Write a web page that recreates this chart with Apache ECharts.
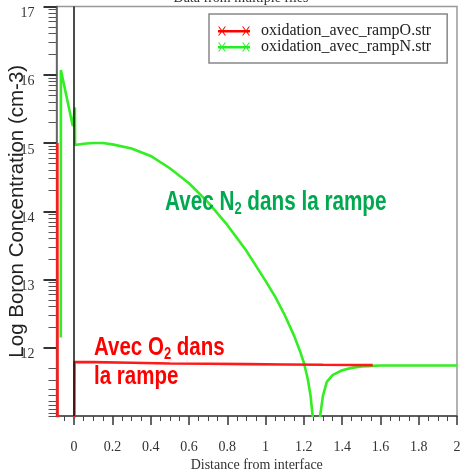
<!DOCTYPE html>
<html>
<head>
<meta charset="utf-8">
<script src="https://cdn.jsdelivr.net/npm/echarts@6/dist/echarts.min.js"></script>
<style>
html,body{margin:0;padding:0;background:#fff;}
#chart{width:460px;height:472px;}
</style>
</head>
<body>
<div id="chart"></div>
<script>
// ---- data ----
const seriesNames = ['oxidation_avec_rampO.str', 'oxidation_avec_rampN.str'];

const redX = [-0.0875, -0.0872, -0.0862, 0.001, 0.002, 0.1, 0.3, 0.5, 0.7, 0.9, 1.1, 1.3, 1.45, 1.56];
const redY = [15.0, 13.2, 10.5, 10.5, 11.79, 11.79, 11.78, 11.77, 11.765, 11.76, 11.755, 11.75, 11.748, 11.745];

const greenX = [-0.0695, -0.069, -0.007, 0.004, 0.005, 0.05, 0.1, 0.15, 0.2, 0.3, 0.4, 0.5, 0.6, 0.7, 0.8, 0.9, 1.0, 1.05, 1.1, 1.15, 1.18, 1.2, 1.22, 1.235, 1.246, 1.26, 1.275, 1.285, 1.3, 1.32, 1.35, 1.4, 1.45, 1.5, 1.56, 1.6, 1.8, 2.0];
const greenY = [12.15, 16.07, 15.25, 15.52, 14.97, 14.99, 15.0, 15.0, 14.98, 14.92, 14.81, 14.63, 14.41, 14.13, 13.8, 13.42, 12.98, 12.75, 12.48, 12.17, 11.95, 11.78, 11.55, 11.3, 11.0, 10.5, 10.5, 11.0, 11.3, 11.5, 11.6, 11.67, 11.705, 11.725, 11.735, 11.74, 11.74, 11.74];

const xMajorTicks = [0, 0.2, 0.4, 0.6, 0.8, 1, 1.2, 1.4, 1.6, 1.8, 2];
const xMinorTicks = [-0.05, 0.05, 0.1, 0.15, 0.25, 0.3, 0.35, 0.45, 0.5, 0.55, 0.65, 0.7, 0.75, 0.85, 0.9, 0.95, 1.05, 1.1, 1.15, 1.25, 1.3, 1.35, 1.45, 1.5, 1.55, 1.65, 1.7, 1.75, 1.85, 1.9, 1.95];
const yMajorTicks = [12, 13, 14, 15, 16, 17];
const yDecades = [12, 13, 14, 15, 16];
const minorK = [2, 3, 4, 5, 6, 7, 8, 9];
const yMinorTicks = [11];
minorK.forEach(k => yMinorTicks.push(12 - Math.log10(k)));
yDecades.forEach(d => minorK.forEach(k => yMinorTicks.push(d + Math.log10(k))));

const xMin = -0.092, xMax = 2, yMin = 11, yMax = 17;

const zip = (xs, ys) => xs.map((x, i) => [x, ys[i]]);

const iconPath = 'path://M0,4 L32,4 L32,6.5 L0,6.5 Z M0,0.5 L1.2,0.5 L8,9.5 L6.8,9.5 Z M6.8,0.5 L8,0.5 L1.2,9.5 L0,9.5 Z M24,0.5 L25.2,0.5 L32,9.5 L30.8,9.5 Z M30.8,0.5 L32,0.5 L25.2,9.5 L24,9.5 Z';

const chart = echarts.init(document.getElementById('chart'), null, {renderer: 'canvas'});
const serif = 'Liberation Serif';
const sans = 'Liberation Sans';

chart.setOption({
  animation: false,
  backgroundColor: '#fff',
  grid: {left: 56.5, right: 3, top: 6.5, bottom: 56, show: true, borderColor: '#999', borderWidth: 1.5,
         backgroundColor: 'transparent', containLabel: false, outerBoundsMode: 'none'},
  legend: {
    orient: 'vertical', left: 209, top: 14,
    padding: [9, 16, 8, 9], itemGap: 0, itemWidth: 32, itemHeight: 10,
    borderColor: '#888', borderWidth: 1.5,
    textStyle: {fontFamily: serif, fontSize: 16, lineHeight: 15, color: '#222', padding: [0, 0, 0, 6]},
    data: [{name: seriesNames[0], icon: iconPath}, {name: seriesNames[1], icon: iconPath}]
  },
  xAxis: [{
    type: 'value', min: xMin, max: xMax,
    name: 'Distance from interface', nameLocation: 'middle', nameGap: 49, nameMoveOverlap: false,
    nameTextStyle: {fontFamily: serif, fontSize: 14, color: '#333', verticalAlign: 'middle'},
    axisLine: {show: true, onZero: false, lineStyle: {color: '#444', width: 1.5}},
    axisTick: {show: true, customValues: xMajorTicks, length: 9, lineStyle: {color: '#333', width: 1.5}},
    axisLabel: {show: true, customValues: xMajorTicks, margin: 24, fontFamily: serif, fontSize: 14, color: '#333'},
    splitLine: {show: false}
  }, {
    type: 'value', min: xMin, max: xMax, position: 'bottom',
    axisLine: {show: false, onZero: false},
    axisTick: {show: true, customValues: xMinorTicks, length: 5, lineStyle: {color: '#444', width: 1}},
    axisLabel: {show: false},
    splitLine: {show: false}
  }],
  yAxis: [{
    type: 'value', min: yMin, max: yMax,
    name: 'Log Boron Concentration (cm-3)', nameLocation: 'middle', nameGap: 39, nameMoveOverlap: false,
    nameTextStyle: {fontFamily: sans, fontSize: 20.5, color: '#222', verticalAlign: 'middle'},
    axisLine: {show: true, onZero: false, lineStyle: {color: '#555', width: 1.5}},
    axisTick: {show: true, customValues: yMajorTicks, length: 13, lineStyle: {color: '#333', width: 2}},
    axisLabel: {show: true, customValues: yMajorTicks, margin: 22, fontFamily: serif, fontSize: 14, color: '#333', verticalAlign: 'top'},
    splitLine: {show: false}
  }, {
    type: 'value', min: yMin, max: yMax, position: 'left',
    axisLine: {show: false, onZero: false},
    axisTick: {show: true, customValues: yMinorTicks, length: 8, lineStyle: {color: '#555', width: 1}},
    axisLabel: {show: false},
    splitLine: {show: false}
  }],
  series: [{
    name: seriesNames[0], type: 'line', xAxisIndex: 0, yAxisIndex: 0,
    data: zip(redX, redY), showSymbol: false, symbol: 'none', clip: true,
    itemStyle: {color: '#ff0000'}, lineStyle: {color: '#ff1a1a', width: 2.6}, z: 3
  }, {
    name: seriesNames[1], type: 'line', xAxisIndex: 0, yAxisIndex: 0,
    data: zip(greenX, greenY), showSymbol: false, symbol: 'none', clip: true,
    itemStyle: {color: '#22ee22'}, lineStyle: {color: '#33ee22', width: 2.6}, z: 2,
    markLine: {silent: true, symbol: 'none', label: {show: false},
      lineStyle: {color: '#111', width: 1.5, type: 'solid'},
      data: [{xAxis: 0}]}
  }],
  graphic: [
    {type: 'text', x: 241, y: 5, style: {text: 'Data from multiple files', fontFamily: serif, fontSize: 14, fill: '#333', textAlign: 'center', textVerticalAlign: 'bottom'}},
    {type: 'text', x: 165, y: 202.5, scaleY: 1.3, z: 10, style: {
      text: '{a|Avec N}{s|2}{a| dans la rampe}', fill: '#00a84f', textVerticalAlign: 'middle',
      rich: {a: {fontFamily: sans, fontSize: 20.7, fontWeight: 'bold', fill: '#00a84f'},
             s: {fontFamily: sans, fontSize: 13, fontWeight: 'bold', fill: '#00a84f', padding: [11, 0, 0, 0]}}}},
    {type: 'text', x: 94, y: 347.5, scaleY: 1.3, z: 10, style: {
      text: '{a|Avec O}{s|2}{a| dans}', fill: '#ff0000', textVerticalAlign: 'middle',
      rich: {a: {fontFamily: sans, fontSize: 20.5, fontWeight: 'bold', fill: '#ff0000'},
             s: {fontFamily: sans, fontSize: 13, fontWeight: 'bold', fill: '#ff0000', padding: [11, 0, 0, 0]}}}},
    {type: 'text', x: 94, y: 377, scaleY: 1.3, z: 10, style: {
      text: 'la rampe', fill: '#ff0000', textVerticalAlign: 'middle',
      fontFamily: sans, fontSize: 20.5, fontWeight: 'bold'}}
  ]
});
</script>
</body>
</html>
